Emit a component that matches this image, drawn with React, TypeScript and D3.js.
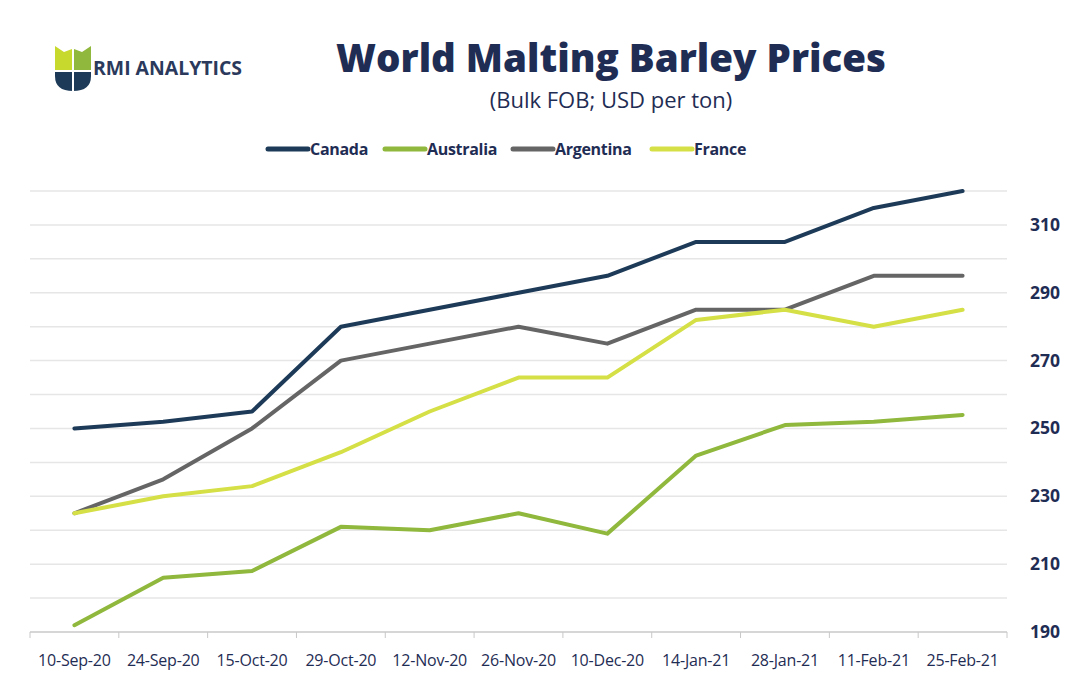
import React from 'react';
import * as d3 from 'd3';

const dates = ['10-Sep-20', '24-Sep-20', '15-Oct-20', '29-Oct-20', '12-Nov-20', '26-Nov-20', '10-Dec-20', '14-Jan-21', '28-Jan-21', '11-Feb-21', '25-Feb-21'];
const canada = [250, 252, 255, 280, 285, 290, 295, 305, 305, 315, 320];
const australia = [192, 206, 208, 221, 220, 225, 219, 242, 251, 252, 254];
const argentina = [225, 235, 250, 270, 275, 280, 275, 285, 285, 295, 295];
const france = [225, 230, 233, 243, 255, 265, 265, 282, 285, 280, 285];
const yTickLabels = [190, 210, 230, 250, 270, 290, 310];
const gridValues = [190, 200, 210, 220, 230, 240, 250, 260, 270, 280, 290, 300, 310, 320];

const series = [
  { name: 'Canada', values: canada, color: '#1d3b58' },
  { name: 'Australia', values: australia, color: '#8fb83c' },
  { name: 'Argentina', values: argentina, color: '#656565' },
  { name: 'France', values: france, color: '#d5df46' },
];

const W = 1065, H = 675;
const left = 30, right = 1007, top = 191, bottom = 632;
const navy = '#1f2d54';
const font = "'Open Sans', 'Noto Sans', sans-serif";

export default function App() {
  const x = d3.scaleBand<string>().domain(dates).range([left, right]);
  const y = d3.scaleLinear().domain([190, 320]).range([bottom, top]);
  const line = d3.line<number>()
    .x((_, i) => (x(dates[i]) as number) + x.bandwidth() / 2)
    .y((d) => y(d));

  // legend swatch starts
  const legendX = [268, 385, 513, 652];

  return (
    <svg width={W} height={H} style={{ position: 'absolute', left: 0, top: 0, background: '#fff' }} fontFamily={font}>
      {/* logo */}
      <g>
        <path d="M55,46 L64,52 L72,49 L72,70 L55,70 Z" fill="#c8d92e" />
        <path d="M74,49 L82,52 L91,46 L91,70 L74,70 Z" fill="#8fb83c" />
        <path d="M55,72 L91,72 L91,76 Q91,91 73,91 Q55,91 55,76 Z" fill="#1d3b58" />
        <line x1={73} y1={45} x2={73} y2={92} stroke="#fff" strokeWidth={2} />
        <line x1={54} y1={71} x2={92} y2={71} stroke="#fff" strokeWidth={2} />
        <text x={93} y={75} fontSize={19.5} fontWeight={700} fill="#2b3a5c" textLength={149} lengthAdjust="spacingAndGlyphs">RMI ANALYTICS</text>
      </g>

      <text x={611} y={72} textAnchor="middle" fontSize={38.5} fontWeight={800} fill={navy}>World Malting Barley Prices</text>
      <text x={611} y={108} textAnchor="middle" fontSize={22} fill={navy}>(Bulk FOB; USD per ton)</text>

      {series.map((s, i) => (
        <g key={s.name}>
          <line x1={legendX[i]} x2={legendX[i] + 40} y1={149} y2={149} stroke={s.color} strokeWidth={5} strokeLinecap="round" />
          <text x={legendX[i] + 42} y={155} fontSize={16} fontWeight={700} fill={navy} style={{ letterSpacing: '-0.3px' }}>{s.name}</text>
        </g>
      ))}

      {gridValues.map((v) => (
        <line key={v} x1={left} x2={right} y1={y(v)} y2={y(v)} stroke={v === 190 ? '#c8c8c8' : '#e6e6e6'} strokeWidth={1.5} />
      ))}
      {dates.map((d) => (
        <line key={d} x1={x(d) as number} x2={x(d) as number} y1={bottom} y2={bottom + 6} stroke="#c8c8c8" strokeWidth={1} />
      ))}
      <line x1={right} x2={right} y1={bottom} y2={bottom + 6} stroke="#c8c8c8" />

      {yTickLabels.map((v) => (
        <text key={v} x={1045} y={y(v) + 6} textAnchor="middle" fontSize={17.5} fontWeight={700} fill={navy}>{v}</text>
      ))}
      {dates.map((d) => (
        <text key={d} x={(x(d) as number) + x.bandwidth() / 2} y={666} textAnchor="middle" fontSize={16} fill={navy} style={{ letterSpacing: '-0.2px' }}>{d}</text>
      ))}

      {series.map((s) => (
        <path key={s.name} d={line(s.values) || ''} fill="none" stroke={s.color} strokeWidth={4} strokeLinejoin="round" strokeLinecap="round" />
      ))}
    </svg>
  );
}
